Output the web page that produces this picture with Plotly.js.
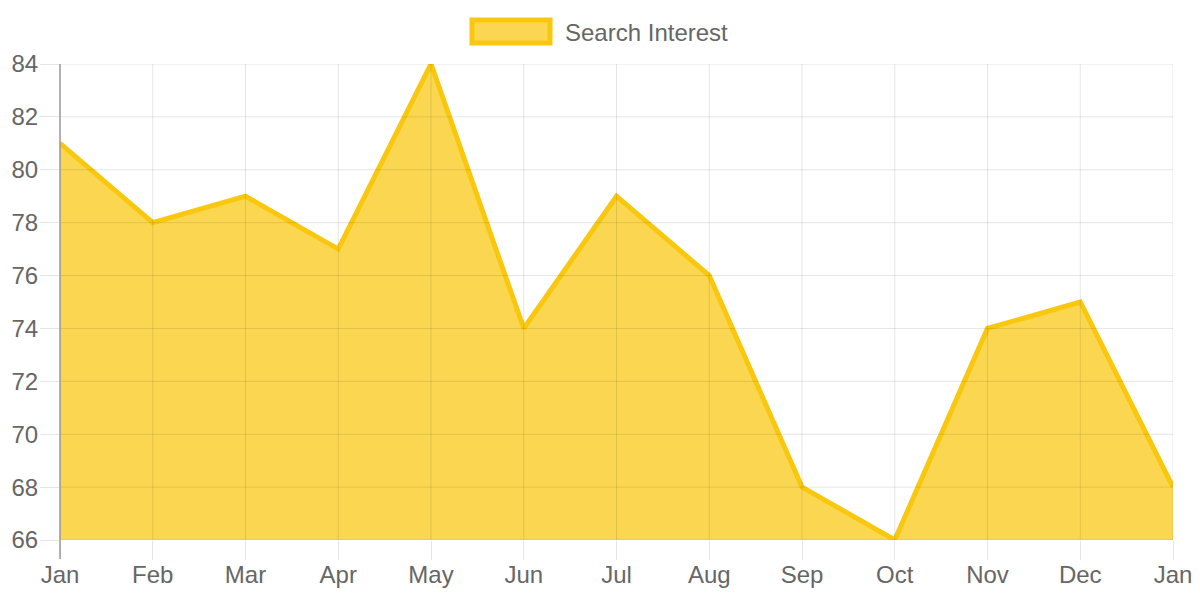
<!DOCTYPE html>
<html>
<head>
<meta charset="utf-8">
<script src="https://cdn.plot.ly/plotly-3.0.1.min.js"></script>
<style>html,body{margin:0;padding:0;background:#fff;}#chart{width:1200px;height:600px;}</style>
</head>
<body>
<div id="chart"></div>
<script>
const monthLabels = ["Jan","Feb","Mar","Apr","May","Jun","Jul","Aug","Sep","Oct","Nov","Dec","Jan"];
const searchInterest = [81,78,79,77,84,74,79,76,68,66,74,75,68];
const seriesName = "Search Interest";
const yTicks = [66,68,70,72,74,76,78,80,82,84];

const xIdx = monthLabels.map((_, i) => i);
const lineColor = "#F9C80E";
const fillColor = "rgba(249,200,14,0.72)";
const gridColor = "rgba(0,0,0,0.1)";
const font = "Liberation Sans, Arial, sans-serif";
const fs = 24;

const trace = {
  x: xIdx,
  y: searchInterest,
  type: "scatter",
  mode: "lines",
  name: seriesName,
  line: {color: lineColor, width: 5, shape: "linear"},
  fill: "tozeroy",
  fillcolor: fillColor,
  showlegend: false,
  hoverinfo: "x+y"
};

// grid lines drawn above the translucent fill, as in the reference
const gridShapes = [];
yTicks.forEach(v => gridShapes.push({type: "line", xref: "paper", yref: "y",
  x0: 0, x1: 1, y0: v, y1: v, layer: "above", line: {color: gridColor, width: 1}}));
xIdx.forEach(v => gridShapes.push({type: "line", xref: "x", yref: "paper",
  x0: v, x1: v, y0: 0, y1: 1, layer: "above", line: {color: gridColor, width: 1}}));

const layout = {
  width: 1200, height: 600,
  margin: {l: 60, r: 27, t: 64, b: 60},
  paper_bgcolor: "#fff", plot_bgcolor: "#fff",
  font: {family: font, size: fs, color: "#666"},
  xaxis: {
    range: [0, monthLabels.length - 1],
    tickvals: xIdx, ticktext: monthLabels,
    showgrid: false,
    ticks: "outside", ticklen: 19, tickcolor: gridColor, ticklabelstandoff: -6,
    showline: false,
    zeroline: false, fixedrange: true,
    tickfont: {family: font, size: fs, color: "#666"}
  },
  yaxis: {
    range: [66, 84],
    tickvals: yTicks,
    showgrid: false,
    ticks: "outside", ticklen: 19, tickcolor: gridColor, ticklabelstandoff: -3,
    showline: false,
    zeroline: false, fixedrange: true,
    tickfont: {family: font, size: fs, color: "#666"}
  },
  shapes: gridShapes.concat([
    {type: "line", xref: "paper", yref: "paper", x0: 0, x1: 0, y0: -19 / 476, y1: 1,
     layer: "above", line: {color: "#999", width: 1.5}},
    {type: "rect", xref: "paper", yref: "paper",
     x0: (472 - 60) / 1113, x1: (550 - 60) / 1113,
     y0: (540 - 43) / 476, y1: (540 - 20) / 476,
     fillcolor: fillColor, line: {color: lineColor, width: 5}}
  ]),
  annotations: [
    {xref: "paper", yref: "paper", x: (563 - 60) / 1113, y: (540 - 32) / 476,
     xanchor: "left", yanchor: "middle", showarrow: false,
     text: seriesName, font: {family: font, size: fs, color: "#666"}}
  ]
};

Plotly.newPlot("chart", [trace], layout, {displayModeBar: false, staticPlot: true});
</script>
</body>
</html>
